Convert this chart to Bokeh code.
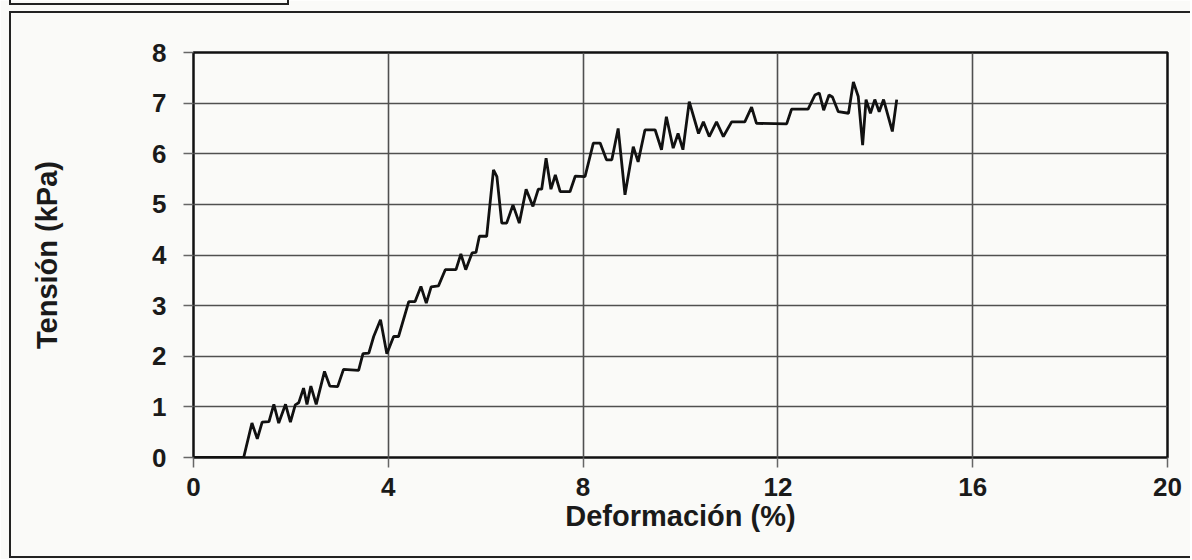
from bokeh.plotting import figure
from bokeh.models import FixedTicker, Range1d, InlineStyleSheet
from bokeh.embed import file_html
from bokeh.resources import INLINE

deformacion = [0, 1.03, 1.20, 1.31, 1.41, 1.55, 1.65, 1.75, 1.89, 1.99, 2.09, 2.16, 2.26, 2.33,
               2.41, 2.52, 2.69, 2.80, 2.96, 3.08, 3.39, 3.48, 3.60, 3.70, 3.84, 3.97, 4.11, 4.21,
               4.42, 4.55, 4.67, 4.78, 4.88, 5.03, 5.17, 5.39, 5.49, 5.59, 5.72, 5.80, 5.87, 6.02,
               6.16, 6.23, 6.33, 6.43, 6.56, 6.69, 6.83, 6.97, 7.08, 7.15, 7.24, 7.34, 7.43, 7.53,
               7.73, 7.84, 8.04, 8.21, 8.35, 8.48, 8.59, 8.72, 8.86, 9.03, 9.13, 9.27, 9.48, 9.61,
               9.71, 9.85, 9.95, 10.05, 10.18, 10.37, 10.47, 10.59, 10.74, 10.88, 11.05, 11.32,
               11.46, 11.56, 12.18, 12.28, 12.62, 12.76, 12.85, 12.94, 13.05, 13.12, 13.24, 13.45,
               13.55, 13.65, 13.74, 13.81, 13.90, 13.99, 14.08, 14.17, 14.35, 14.44]
tension = [0, 0, 0.68, 0.37, 0.70, 0.71, 1.05, 0.68, 1.05, 0.70, 1.04, 1.08, 1.37, 1.05,
           1.41, 1.05, 1.70, 1.41, 1.40, 1.74, 1.72, 2.05, 2.06, 2.39, 2.72, 2.05, 2.39, 2.39,
           3.08, 3.08, 3.38, 3.05, 3.37, 3.39, 3.71, 3.71, 4.02, 3.71, 4.04, 4.05, 4.37, 4.37,
           5.68, 5.55, 4.63, 4.63, 4.99, 4.63, 5.30, 4.96, 5.30, 5.30, 5.91, 5.30, 5.58, 5.25,
           5.25, 5.56, 5.55, 6.21, 6.21, 5.88, 5.88, 6.50, 5.19, 6.14, 5.84, 6.47, 6.47, 6.08,
           6.73, 6.11, 6.40, 6.08, 7.03, 6.40, 6.63, 6.34, 6.63, 6.34, 6.63, 6.63,
           6.92, 6.60, 6.59, 6.88, 6.88, 7.16, 7.20, 6.86, 7.16, 7.12, 6.83, 6.80,
           7.42, 7.13, 6.17, 7.07, 6.80, 7.07, 6.83, 7.07, 6.44, 7.07]
x_ticks = [0, 4, 8, 12, 16, 20]
y_ticks = [0, 1, 2, 3, 4, 5, 6, 7, 8]
x_title = "Deformación (%)"
y_title = "Tensión (kPa)"

FONT = "Liberation Sans"
BG = "#fafaf8"
INK = "#1a1a1a"

p = figure(width=1190, height=559, output_backend="svg", toolbar_location=None,
           x_range=Range1d(0, 20), y_range=Range1d(0, 8),
           min_border_left=193, min_border_right=23, min_border_top=52, min_border_bottom=102,
           background_fill_color=BG, border_fill_color=BG)

p.outline_line_color = "#111111"
p.outline_line_width = 2.5

for ax in (p.xaxis[0], p.yaxis[0]):
    ax.axis_line_color = None
    ax.major_tick_in = 0
    ax.major_tick_out = 10
    ax.major_tick_line_color = "#666666"
    ax.major_tick_line_width = 1.5
    ax.minor_tick_line_color = None
    ax.major_label_text_font = FONT
    ax.major_label_text_font_style = "bold"
    ax.major_label_text_font_size = "26px"
    ax.major_label_text_color = INK
    ax.axis_label_text_font = FONT
    ax.axis_label_text_font_style = "bold"
    ax.axis_label_text_color = INK
    ax.axis_label_text_font_size = "29px"

p.xaxis.ticker = FixedTicker(ticks=x_ticks)
p.yaxis.ticker = FixedTicker(ticks=y_ticks)
p.xaxis.axis_label = x_title
p.yaxis.axis_label = y_title
p.xaxis.major_label_standoff = 10
p.yaxis.major_label_standoff = 17
p.xaxis.axis_label_standoff = 1
p.yaxis.axis_label_standoff = 86

p.grid.grid_line_color = "#505050"
p.grid.grid_line_width = 1.6
p.xgrid.ticker = FixedTicker(ticks=x_ticks)
p.ygrid.ticker = FixedTicker(ticks=y_ticks)

p.line(deformacion, tension, line_color="#111111", line_width=2.8)

# outer frame of the scanned sheet and the bottom of the table cell above it
p.stylesheets = [InlineStyleSheet(css="""
:host { position: relative; }
:host::after {
  content: ""; position: absolute; left: 9px; top: 11px;
  width: 1181px; height: 547px; box-sizing: border-box;
  border-left: 2.5px solid #222222; border-top: 2.5px solid #222222;
  border-bottom: 2.5px solid #222222;
  pointer-events: none; z-index: 10;
}
:host::before {
  content: ""; position: absolute; left: 9px; top: 0px;
  width: 280px; height: 5px; box-sizing: border-box;
  border-left: 2px solid #222222; border-right: 2px solid #222222;
  border-bottom: 2px solid #222222;
  pointer-events: none; z-index: 10;
}
""")]

open("out.html", "w").write(file_html(p, INLINE))
